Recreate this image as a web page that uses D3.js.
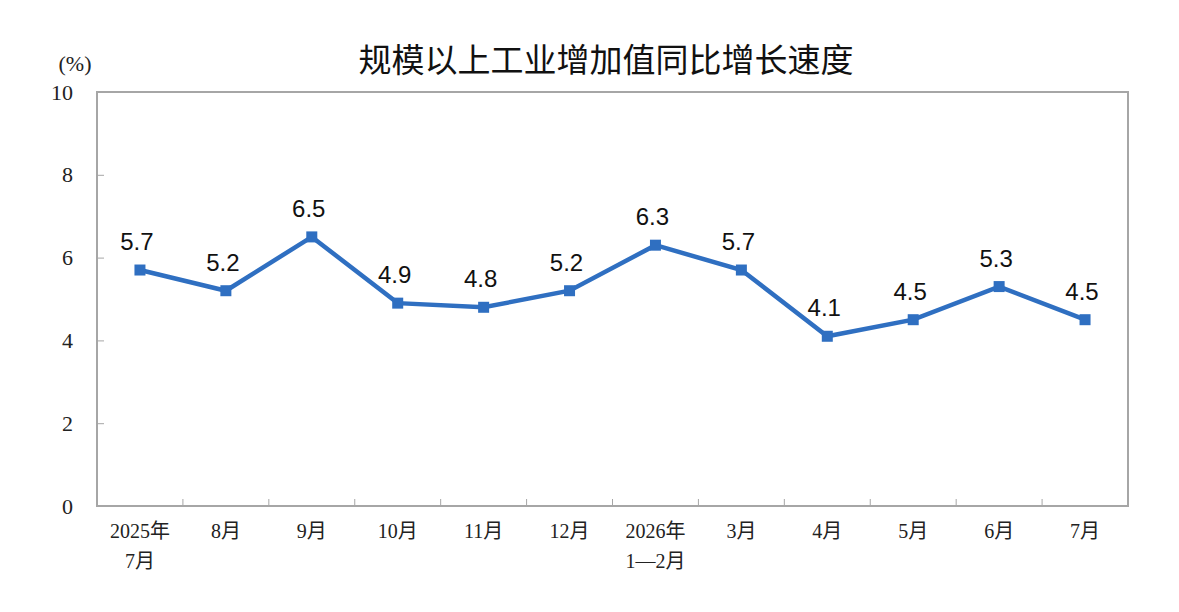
<!DOCTYPE html>
<html>
<head>
<meta charset="utf-8">
<script src="https://cdn.jsdelivr.net/npm/d3@7"></script>
<style>
  body { margin: 0; background: #fff; }
  svg { display: block; }
</style>
</head>
<body>
<svg id="chart" width="1179" height="612"></svg>
<script>
const categories = ["2025年\n7月", "8月", "9月", "10月", "11月", "12月", "2026年\n1—2月", "3月", "4月", "5月", "6月", "7月"];
const values = [5.7, 5.2, 6.5, 4.9, 4.8, 5.2, 6.3, 5.7, 4.1, 4.5, 5.3, 4.5];
const yTicks = [0, 2, 4, 6, 8, 10];

const svg = d3.select("#chart");
const margin = {top: 92, right: 51, bottom: 106, left: 97};
const width = 1179 - margin.left - margin.right;
const height = 612 - margin.top - margin.bottom;
const serif = "'Liberation Serif', 'DejaVu Serif', 'Noto Sans CJK SC', serif";
const sans = "'Liberation Sans', Arial, sans-serif";
const frameColor = "#a6a6a6";
const lineColor = "#2f6fc1";

const g = svg.append("g")
  .attr("transform", `translate(${margin.left},${margin.top})`);

const x = d3.scaleBand()
  .domain(categories)
  .range([0, width]);

const y = d3.scaleLinear()
  .domain([0, 10])
  .range([height, 0]);

// title
svg.append("text")
  .attr("x", 606)
  .attr("y", 72)
  .attr("text-anchor", "middle")
  .attr("font-family", "'Noto Sans CJK SC', sans-serif")
  .attr("font-size", 33)
  .attr("font-weight", 400)
  .attr("fill", "#111")
  .text("规模以上工业增加值同比增长速度");

svg.append("text")
  .attr("x", 75)
  .attr("y", 71)
  .attr("text-anchor", "middle")
  .attr("font-family", serif)
  .attr("font-size", 22)
  .attr("fill", "#222")
  .text("(%)");

// frame
g.append("rect")
  .attr("width", width)
  .attr("height", height)
  .attr("fill", "none")
  .attr("stroke", frameColor)
  .attr("stroke-width", 2);

// y axis
const yAxis = g.append("g")
  .call(d3.axisLeft(y).tickValues(yTicks).tickSize(-7).tickPadding(24).tickFormat(d3.format("d")));
yAxis.select(".domain").remove();
yAxis.selectAll(".tick line").attr("stroke", frameColor).attr("stroke-width", 1);
yAxis.selectAll(".tick text")
  .attr("font-family", serif)
  .attr("font-size", 22)
  .attr("fill", "#222");

// x axis ticks at category boundaries
const bounds = categories.slice(1).map(c => x(c));
g.selectAll(".xtick")
  .data(bounds)
  .join("line")
  .attr("class", "xtick")
  .attr("x1", d => d).attr("x2", d => d)
  .attr("y1", height).attr("y2", height - 7)
  .attr("stroke", frameColor)
  .attr("stroke-width", 1);

const xLabels = g.selectAll(".xlabel")
  .data(categories)
  .join("text")
  .attr("class", "xlabel")
  .attr("text-anchor", "middle")
  .attr("font-family", serif)
  .attr("font-size", 20)
  .attr("fill", "#222")
  .attr("transform", d => `translate(${x(d) + x.bandwidth() / 2},${height + 32})`);
xLabels.selectAll("tspan")
  .data(d => d.split("\n"))
  .join("tspan")
  .attr("x", 0)
  .attr("dy", (d, i) => i === 0 ? 0 : 30)
  .text(d => d);

// line
const line = d3.line()
  .x((d, i) => x(categories[i]) + x.bandwidth() / 2)
  .y(d => y(d));

g.append("path")
  .datum(values)
  .attr("fill", "none")
  .attr("stroke", lineColor)
  .attr("stroke-width", 4.5)
  .attr("stroke-linejoin", "miter")
  .attr("d", line);

g.selectAll(".marker")
  .data(values)
  .join("rect")
  .attr("class", "marker")
  .attr("x", (d, i) => x(categories[i]) + x.bandwidth() / 2 - 5.5)
  .attr("y", d => y(d) - 5.5)
  .attr("width", 11)
  .attr("height", 11)
  .attr("fill", lineColor);

g.selectAll(".vlabel")
  .data(values)
  .join("text")
  .attr("class", "vlabel")
  .attr("x", (d, i) => x(categories[i]) + x.bandwidth() / 2 - 3)
  .attr("y", d => y(d) - 20)
  .attr("text-anchor", "middle")
  .attr("font-family", sans)
  .attr("font-size", 24)
  .attr("fill", "#111")
  .text(d => d3.format(".1f")(d));
</script>
</body>
</html>
